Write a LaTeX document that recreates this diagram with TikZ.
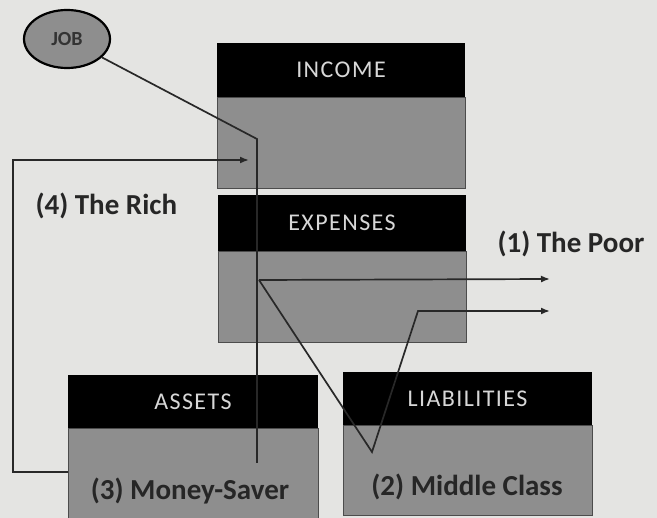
\documentclass[tikz,border=0pt]{standalone}
\usepackage{fontspec}
\setmainfont{Carlito}
\newfontfamily\spacedfont[LetterSpace=6]{Carlito}
\usepackage{tikz}
\usetikzlibrary{shapes, arrows.meta, positioning}
\definecolor{paper}{RGB}{228,228,226}
\definecolor{bodygray}{RGB}{142,142,142}
\definecolor{headtext}{RGB}{215,215,215}
\definecolor{inkline}{RGB}{40,40,40}
\tikzstyle{head}=[fill=black,text=headtext,rectangle,inner sep=0pt,minimum width=248pt,minimum height=54pt,font=\spacedfont\fontsize{24}{28}\selectfont]
\tikzstyle{body}=[fill=bodygray,draw=black!70,rectangle,inner sep=0pt,minimum width=248pt,minimum height=91pt]
\tikzstyle{tag}=[font=\fontsize{29}{34}\selectfont\bfseries,text=black!85]
\tikzstyle{wire}=[draw=inkline,line width=1.7pt]

\begin{document}
\begin{tikzpicture}[x=1pt,y=-1pt,>={Latex[length=9pt,width=7pt]}]
    \fill[paper] (0,0) rectangle (657,518);
    \useasboundingbox (0,0) rectangle (657,518);

    % income and expenses
    \node[head] (inchead) at (341,70) {INCOME};
    \node[body, below=0pt of inchead] (inc) {};
    \node[head, minimum height=56pt] (exphead) at (342,223) {EXPENSES};
    \node[body, below=0pt of exphead] (exp) {};

    % assets and liabilities
    \node[head, minimum width=250pt, minimum height=53pt] (asthead) at (193,401.5) {ASSETS};
    \node[body, minimum width=250pt, minimum height=92pt, below=0pt of asthead] (ast) {};
    \node[head, minimum width=249pt, minimum height=53pt] (liahead) at (467.5,398.5) {LIABILITIES};
    \node[body, minimum width=249pt, minimum height=90pt, below=0pt of liahead] (lia) {};

    \node[tag] (saver) at (190,491) {(3) Money-Saver};
    \node[tag] (middle) at (467,487) {(2) Middle Class};
    \node[tag, anchor=west] (rich) at (32,206) {(4) The Rich};
    \node[tag, anchor=west] (poor) at (494,244) {(1) The Poor};

    \node[ellipse,draw=black,line width=2.2pt,fill=bodygray,minimum width=86pt,minimum height=58pt,inner sep=0pt,font=\fontsize{20}{24}\selectfont\bfseries,text=black!80] (job) at (67,39) {JOB};

    % flows
    \coordinate (turn) at (257,139);
    \coordinate (low) at (257,463);
    \draw[wire] (job) -- (turn) -- (low);

    \coordinate (richout) at (68,472);
    \coordinate (richcorner) at (13,472);
    \coordinate (richin) at (249,160);
    \draw[wire,->] (richout) -- (richcorner) |- (richin);

    \coordinate (split) at (259,280);
    \coordinate (poorone) at (550,279);
    \draw[wire,->] (split) -- (poorone);

    \coordinate (vbot) at (372,452);
    \coordinate (vtop) at (418,311);
    \coordinate (poortwo) at (550,311);
    \draw[wire,->] (split) -- (vbot) -- (vtop) -- (poortwo);
\end{tikzpicture}
\end{document}
